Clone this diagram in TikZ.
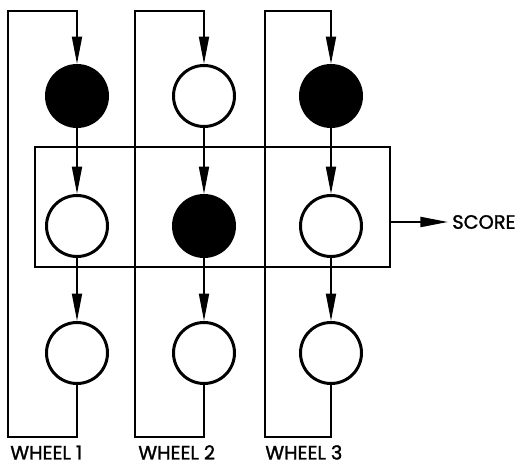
\documentclass[tikz,border=0pt]{standalone}
\usepackage{fontspec}
\setmainfont{Poppins}[FakeBold=1.5]
\usepackage{tikz}
\usetikzlibrary{arrows.meta,positioning,calc}

\tikzset{
  wheel/.style={circle, draw, line width=1.7pt, minimum size=1.22cm, inner sep=0},
  feed/.style={line width=1.1pt, -{Triangle[length=0.55cm,width=0.2cm]}},
  label/.style={font=\fontsize{11}{13}\selectfont, anchor=base west, inner sep=0}
}

\begin{document}
\begin{tikzpicture}
        \useasboundingbox (0,0) rectangle (10.32,9.32);
        % Wheels: three rows of lamps per column
        \foreach \i/\x/\fa/\fb in {1/1.54/black/white, 2/4.08/white/black, 3/6.62/black/white} {
            \node[wheel, fill=\fa] (a\i) at (\x,7.4) {};
            \node[wheel, fill=\fb] (b\i) at (\x,4.8) {};
            \node[wheel, fill=white] (c\i) at (\x,2.26) {};
        }
        % Loop corners
        \foreach \i/\x/\l in {1/1.54/0.16, 2/4.08/2.7, 3/6.62/5.3} {
            \coordinate (low\i) at (\l,0.58);
            \coordinate (top\i) at (\x,9.1);
        }
        \foreach \i in {1,2,3} {
            \draw[feed] (c\i.south) |- (low\i) |- (top\i) -- (a\i.north);
            \draw[feed] (a\i) -- (b\i);
            \draw[feed] (b\i) -- (c\i);
        }
        % Score window
        \node[draw, line width=1.7pt, minimum width=7.1cm, minimum height=2.4cm, inner sep=0] (window) at (4.25,5.18) {};
        \node[label, anchor=west, inner sep=0.08cm] (score) at (8.96,4.88) {SCORE};
        \draw[feed] (window.east |- score.west) -- (score.west);
        % Labels
        \node[label] (name1) at (0.2,0.13) {WHEEL 1};
        \node[label] (name2) at (2.76,0.13) {WHEEL 2};
        \node[label] (name3) at (5.3,0.13) {WHEEL 3};
    \end{tikzpicture}
\end{document}
